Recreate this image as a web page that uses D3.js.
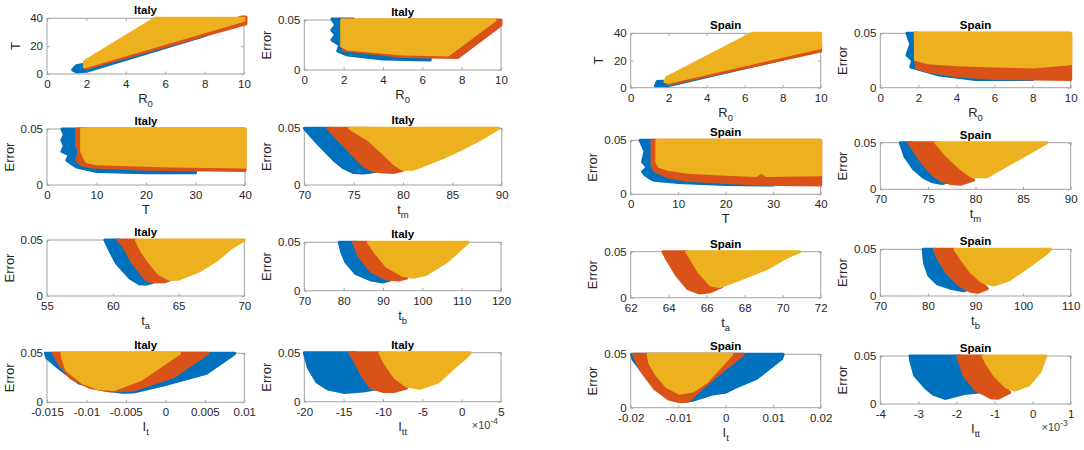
<!DOCTYPE html>
<html>
<head>
<meta charset="utf-8">
<script src="https://cdn.jsdelivr.net/npm/d3@7"></script>
<style>
  html, body { margin: 0; padding: 0; background: #fff; }
  svg { display: block; }
</style>
</head>
<body>
<svg id="chart" width="1084" height="450"></svg>
<script>
const BLUE = "#0072BD", ORANGE = "#D95319", YELLOW = "#EDB120";
const FONT = "'Liberation Sans', Arial, Helvetica, sans-serif";

// ---- tick values ----------------------------------------------------------
const ticksR0 = [0, 2, 4, 6, 8, 10];
const ticksT = [0, 10, 20, 30, 40];
const ticksTy = [0, 20, 40];
const ticksErr = [0, 0.05];
const ticksTm = [70, 75, 80, 85, 90];
const ticksTaIt = [55, 60, 65, 70];
const ticksTaEs = [62, 64, 66, 68, 70, 72];
const ticksTbIt = [70, 80, 90, 100, 110, 120];
const ticksTbEs = [70, 80, 90, 100, 110];
const ticksItIt = [-0.015, -0.01, -0.005, 0, 0.005, 0.01];
const ticksItEs = [-0.02, -0.01, 0, 0.01, 0.02];
const ticksIttIt = [-20, -15, -10, -5, 0, 5];   // x 10^-4
const ticksIttEs = [-4, -3, -2, -1, 0, 1];      // x 10^-3

// ---- cloud outlines, [x, y] ------------------------------------------------
// Italy
const itR0T = {
  blue:   [[1.3,3],[1.5,6],[2.2,8],[8.1,30],[8.1,28],[2,2],[1.5,1.5]],
  orange: [[1.9,5],[9.9,41],[10.1,41],[10.1,36],[2,4]],
  yellow: [[1.9,5],[1.9,9],[3.3,21],[5.5,40],[10,40],[10,38.5],[2,5.5]]
};
const itR0E = {
  blue:   [[1.4,0.051],[2.5,0.051],[2.5,0.03],[6.4,0.012],[6.4,0.010],[4,0.011],[2.2,0.015],[1.7,0.019],[1.8,0.025],[1.4,0.03],[1.6,0.035],[1.4,0.04],[1.6,0.045]],
  orange: [[1.9,0.05],[10,0.05],[10,0.045],[7.8,0.0125],[5,0.0135],[2,0.02]],
  yellow: [[1.9,0.05],[9.7,0.05],[7.3,0.015],[5,0.016],[2.2,0.021],[1.9,0.024]]
};
const itTE = {
  blue:   [[3,0.05],[8,0.05],[8,0.03],[30,0.014],[30,0.011],[20,0.011],[10,0.012],[6,0.016],[5,0.019],[4,0.022],[4.5,0.027],[3,0.03],[3.5,0.035],[3,0.04],[3.5,0.045]],
  orange: [[6,0.05],[40,0.05],[40,0.013],[20,0.014],[9,0.016],[7,0.018],[6,0.022],[6.5,0.03],[6,0.035]],
  yellow: [[7,0.05],[40,0.05],[40,0.016],[25,0.017],[10,0.019],[8,0.021],[7.5,0.025],[7,0.03]]
};
const itTmE = {
  blue:   [[70,0.05],[72.5,0.05],[74,0.035],[75.5,0.022],[77.2,0.012],[76,0.0105],[75,0.011],[74,0.015],[73,0.022],[72,0.031],[71,0.040]],
  orange: [[72.4,0.05],[76.5,0.05],[78,0.03],[80,0.013],[79,0.011],[78,0.0115],[77,0.0125],[76,0.017],[75,0.026],[74,0.035],[73,0.044]],
  yellow: [[74.6,0.05],[89.7,0.05],[88,0.041],[86,0.032],[84,0.024],[82,0.017],[81,0.0138],[80,0.0138],[79.2,0.018],[78,0.028],[76.5,0.04]]
};
const itTaE = {
  blue:   [[59.4,0.05],[60.5,0.05],[61.5,0.03],[63,0.012],[62.5,0.0105],[62,0.011],[61.3,0.016],[60.3,0.029],[59.8,0.04]],
  orange: [[60.4,0.05],[61.8,0.05],[63,0.03],[64.5,0.015],[64,0.0128],[63,0.0125],[62.5,0.015],[61.5,0.03],[60.8,0.045]],
  yellow: [[61.8,0.05],[70,0.05],[69,0.043],[67.9,0.032],[66.5,0.022],[65,0.015],[64.3,0.015],[63.5,0.02],[62.8,0.03],[62.2,0.04]]
};
const itTbE = {
  blue:   [[78.9,0.05],[83,0.05],[86,0.03],[91.8,0.011],[90,0.009],[87,0.011],[83,0.018],[80.5,0.03],[79.5,0.04]],
  orange: [[82.5,0.05],[86.5,0.05],[89,0.03],[96,0.013],[94,0.011],[91,0.012],[87,0.02],[84,0.035]],
  yellow: [[86.3,0.05],[111.7,0.05],[110,0.044],[106.2,0.03],[101,0.017],[97.7,0.0138],[95,0.016],[91,0.025],[88,0.04]]
};
const itItE = {
  blue:   [[-0.0152,0.05],[0.0088,0.05],[0.0085,0.048],[0.0052,0.0296],[0,0.018],[-0.004,0.0105],[-0.0055,0.0102],[-0.008,0.013],[-0.011,0.02],[-0.0135,0.035],[-0.015,0.045]],
  orange: [[-0.0142,0.05],[0.0054,0.05],[0.001,0.026],[-0.004,0.0125],[-0.007,0.0115],[-0.0095,0.015],[-0.012,0.025],[-0.0135,0.04]],
  yellow: [[-0.0131,0.05],[0.0018,0.05],[-0.0032,0.0228],[-0.0065,0.013],[-0.0085,0.014],[-0.0105,0.02],[-0.0125,0.033],[-0.013,0.045]]
};
const itIttE = {
  blue:   [[-20,0.05],[-13.5,0.05],[-12,0.03],[-11,0.013],[-12.5,0.011],[-15,0.0095],[-17,0.013],[-18.4,0.02],[-19.5,0.035]],
  orange: [[-14.2,0.05],[-10.4,0.05],[-8.5,0.03],[-7,0.014],[-8.5,0.0105],[-10,0.0105],[-11.5,0.014],[-12.5,0.025],[-13.5,0.04]],
  yellow: [[-10.4,0.05],[1.1,0.05],[0.5,0.045],[-1.1,0.034],[-3,0.02],[-5.3,0.0136],[-7,0.016],[-8.5,0.025],[-9.8,0.04]]
};
// Spain
const esR0T = {
  blue:   [[1.3,1.5],[1.4,4.5],[2,5],[8,23.5],[8,21],[2,1.5]],
  orange: [[1.9,4],[10,31],[10,27],[2,2.5]],
  yellow: [[1.8,4.5],[1.9,7.5],[6.4,40],[10,40],[10,29.5],[2,4]]
};
const esR0E = {
  blue:   [[1.4,0.05],[2,0.05],[2,0.025],[4,0.012],[8,0.009],[8,0.0075],[5,0.0075],[3,0.012],[2.2,0.016],[1.6,0.019],[1.7,0.025],[1.4,0.03],[1.6,0.04]],
  orange: [[1.8,0.05],[10,0.05],[10,0.0075],[6,0.0085],[4,0.011],[2.5,0.015],[1.9,0.018]],
  yellow: [[1.85,0.05],[10,0.05],[10,0.022],[8,0.019],[6,0.02],[4,0.021],[2.5,0.023],[1.85,0.026]]
};
const esTE = {
  blue:   [[2,0.05],[5,0.05],[5,0.03],[12,0.015],[30,0.011],[30,0.0085],[20,0.009],[10,0.011],[5,0.013],[4,0.015],[3,0.018],[2.5,0.021],[3.5,0.025],[2.5,0.03],[3,0.04]],
  orange: [[4.5,0.05],[40,0.05],[40,0.0085],[30,0.009],[20,0.011],[12,0.013],[8,0.016],[5,0.022],[4.5,0.027]],
  yellow: [[5.5,0.05],[40,0.05],[40,0.018],[28.5,0.0175],[27.5,0.021],[26.5,0.0175],[20,0.0185],[12,0.0205],[8,0.023],[6,0.026],[5.5,0.03]]
};
const esTmE = {
  blue:   [[72.1,0.05],[73.2,0.05],[75,0.028],[77.5,0.009],[76.5,0.0062],[75.5,0.008],[74.5,0.013],[73.5,0.022],[72.6,0.035]],
  orange: [[73,0.05],[76,0.05],[78,0.025],[79.8,0.01],[78.5,0.0055],[77.5,0.006],[76.5,0.009],[75.5,0.016],[74.3,0.03]],
  yellow: [[75.85,0.05],[87.5,0.05],[81.2,0.0136],[79.6,0.0136],[78.5,0.022],[77,0.036]]
};
const esTaE = {
  orange: [[63.7,0.05],[65,0.05],[66,0.028],[66.8,0.012],[66.2,0.0065],[65.6,0.0052],[65,0.01],[64.4,0.025],[63.9,0.042]],
  yellow: [[64.95,0.05],[70.9,0.05],[70.3,0.045],[69.2,0.032],[67.5,0.018],[66.7,0.012],[66.2,0.014],[65.6,0.028]]
};
const esTbE = {
  blue:   [[79,0.05],[81.5,0.05],[84,0.03],[89,0.008],[87.5,0.0055],[85,0.008],[82,0.013],[80.2,0.022],[79.3,0.035]],
  orange: [[81.3,0.05],[85.7,0.05],[88,0.03],[92.5,0.008],[90.5,0.004],[89,0.005],[86.5,0.012],[84,0.025],[82.2,0.04]],
  yellow: [[85.7,0.05],[105.8,0.05],[104.5,0.044],[101.5,0.033],[97,0.017],[93.7,0.0118],[91.5,0.015],[89,0.026],[87,0.04]]
};
const esItE = {
  blue:   [[-0.0198,0.05],[0.0121,0.05],[0.0118,0.046],[0.0065,0.0275],[0.002,0.019],[0,0.0145],[-0.001,0.014],[-0.003,0.0125],[-0.007,0.007],[-0.0085,0.006],[-0.012,0.012],[-0.016,0.025],[-0.0195,0.045]],
  orange: [[-0.0194,0.05],[0.0037,0.05],[-0.0026,0.0275],[-0.0065,0.012],[-0.008,0.006],[-0.0096,0.0055],[-0.012,0.008],[-0.015,0.018],[-0.018,0.036]],
  yellow: [[-0.0163,0.05],[0.0013,0.05],[-0.004,0.0244],[-0.007,0.0155],[-0.0096,0.0134],[-0.0125,0.02],[-0.0145,0.0306],[-0.016,0.042]]
};
const esIttE = {
  blue:   [[-3.22,0.05],[-1.9,0.05],[-1.6,0.03],[-1.3,0.013],[-1.8,0.011],[-2.3,0.0058],[-2.6,0.01],[-2.8,0.0163],[-3.1,0.03],[-3.2,0.045]],
  orange: [[-1.97,0.05],[-1.3,0.05],[-1.0,0.03],[-0.6,0.012],[-0.9,0.006],[-1.1,0.0065],[-1.5,0.015],[-1.8,0.03]],
  yellow: [[-1.3,0.05],[0.35,0.05],[0.3,0.045],[0.195,0.0337],[-0.1,0.02],[-0.46,0.0146],[-0.7,0.018],[-1.0,0.03],[-1.2,0.042]]
};

// ---- layout: box = [left, top, right, bottom] in px ------------------------
const panels = [
  { title: "Italy", box: [47, 18.3, 244, 74],      xd: [0, 10],  xt: ticksR0, yd: [0, 40], yt: ticksTy, xl: ["R", "0"], yl: "T", c: itR0T },
  { title: "Italy", box: [304.3, 20, 501, 70],     xd: [0, 10],  xt: ticksR0, yd: [0, 0.05], yt: ticksErr, xl: ["R", "0"], yl: "Error", c: itR0E },
  { title: "Italy", box: [47, 129, 245, 185],      xd: [0, 40],  xt: ticksT,  yd: [0, 0.05], yt: ticksErr, xl: ["T", ""], yl: "Error", c: itTE },
  { title: "Italy", box: [304.3, 128.3, 501.7, 185], xd: [70, 90], xt: ticksTm, yd: [0, 0.05], yt: ticksErr, xl: ["t", "m"], yl: "Error", c: itTmE },
  { title: "Italy", box: [47, 240, 244.3, 296],    xd: [55, 70], xt: ticksTaIt, yd: [0, 0.05], yt: ticksErr, xl: ["t", "a"], yl: "Error", c: itTaE },
  { title: "Italy", box: [304.3, 242.3, 501, 290.7], xd: [70, 120], xt: ticksTbIt, yd: [0, 0.05], yt: ticksErr, xl: ["t", "b"], yl: "Error", c: itTbE },
  { title: "Italy", box: [47, 353.3, 244.3, 402.3], xd: [-0.015, 0.01], xt: ticksItIt, yd: [0, 0.05], yt: ticksErr, xl: ["I", "t"], yl: "Error", c: itItE },
  { title: "Italy", box: [304.3, 352.7, 501, 401.7], xd: [-20, 5], xt: ticksIttIt, yd: [0, 0.05], yt: ticksErr, xl: ["I", "tt"], yl: "Error", c: itIttE, exp: "-4" },
  { title: "Spain", box: [630.7, 33.3, 820.7, 87.7], xd: [0, 10], xt: ticksR0, yd: [0, 40], yt: ticksTy, xl: ["R", "0"], yl: "T", c: esR0T },
  { title: "Spain", box: [880.3, 33.3, 1070.7, 87.7], xd: [0, 10], xt: ticksR0, yd: [0, 0.05], yt: ticksErr, xl: ["R", "0"], yl: "Error", c: esR0E },
  { title: "Spain", box: [630.7, 140.3, 820.7, 194.3], xd: [0, 40], xt: ticksT, yd: [0, 0.05], yt: ticksErr, xl: ["T", ""], yl: "Error", c: esTE },
  { title: "Spain", box: [880.3, 142.7, 1070.7, 189.3], xd: [70, 90], xt: ticksTm, yd: [0, 0.05], yt: ticksErr, xl: ["t", "m"], yl: "Error", c: esTmE },
  { title: "Spain", box: [630.7, 251.7, 820.7, 297.7], xd: [62, 72], xt: ticksTaEs, yd: [0, 0.05], yt: ticksErr, xl: ["t", "a"], yl: "Error", c: esTaE },
  { title: "Spain", box: [880.3, 249.3, 1070.7, 296], xd: [70, 110], xt: ticksTbEs, yd: [0, 0.05], yt: ticksErr, xl: ["t", "b"], yl: "Error", c: esTbE },
  { title: "Spain", box: [630.7, 354.3, 820.7, 407.7], xd: [-0.02, 0.02], xt: ticksItEs, yd: [0, 0.05], yt: ticksErr, xl: ["I", "t"], yl: "Error", c: esItE },
  { title: "Spain", box: [880.3, 356, 1070.7, 404], xd: [-4, 1], xt: ticksIttEs, yd: [0, 0.05], yt: ticksErr, xl: ["I", "tt"], yl: "Error", c: esIttE, exp: "-3" }
];

const svg = d3.select("#chart");
svg.append("rect").attr("width", 1084).attr("height", 450).attr("fill", "#fff");

const cloudColors = [["blue", BLUE], ["orange", ORANGE], ["yellow", YELLOW]];

panels.forEach(p => {
  const [l, t, r, b] = p.box;
  const x = d3.scaleLinear().domain(p.xd).range([l, r]);
  const y = d3.scaleLinear().domain(p.yd).range([b, t]);
  const g = svg.append("g");

  // box (drawn under the data, like MATLAB's default layer)
  g.append("rect")
    .attr("x", l).attr("y", t).attr("width", r - l).attr("height", b - t)
    .attr("fill", "#fff").attr("stroke", "#a3a3a3").attr("stroke-width", 1);

  const fmt = v => String(v);
  const styleAxis = sel => {
    sel.select(".domain").remove();
    sel.selectAll(".tick line").attr("stroke", "#a3a3a3");
    sel.selectAll("text").attr("fill", "#262626")
      .attr("font-family", FONT).attr("font-size", 11.5);
  };

  g.append("g").attr("transform", `translate(0,${b})`)
    .call(d3.axisBottom(x).tickValues(p.xt).tickFormat(fmt).tickSize(-2.5).tickPadding(6))
    .call(styleAxis);
  g.append("g").attr("transform", `translate(${l},0)`)
    .call(d3.axisLeft(y).tickValues(p.yt).tickFormat(fmt).tickSize(-2.5).tickPadding(4))
    .call(styleAxis);
  g.append("g").attr("transform", `translate(0,${t})`)
    .call(d3.axisTop(x).tickValues(p.xt).tickFormat("").tickSize(-2.5))
    .call(styleAxis);
  g.append("g").attr("transform", `translate(${r},0)`)
    .call(d3.axisRight(y).tickValues(p.yt).tickFormat("").tickSize(-2.5))
    .call(styleAxis);

  // point clouds (outlines of the dense '*' markers)
  const line = d3.line().x(d => x(d[0])).y(d => y(d[1])).curve(d3.curveLinearClosed);
  cloudColors.forEach(([k, col]) => {
    if (!p.c[k]) return;
    g.append("path")
      .attr("d", line(p.c[k]))
      .attr("fill", col)
      .attr("stroke", col)
      .attr("stroke-width", 3)
      .attr("stroke-linejoin", "round");
  });

  // x label with subscript
  const xl = g.append("text")
    .attr("x", (l + r) / 2).attr("y", b + 29)
    .attr("text-anchor", "middle")
    .attr("font-family", FONT).attr("font-size", 13).attr("fill", "#262626");
  xl.append("tspan").text(p.xl[0]);
  if (p.xl[1]) xl.append("tspan").attr("dy", 4).attr("font-size", 9.5).text(p.xl[1]);

  // y label
  const yOff = p.yl === "T" ? 32 : 38;
  g.append("text")
    .attr("transform", `translate(${l - yOff},${(t + b) / 2}) rotate(-90)`)
    .attr("text-anchor", "middle").attr("dy", "0.35em")
    .attr("font-family", FONT).attr("font-size", 13).attr("fill", "#262626")
    .text(p.yl);

  // exponent note
  if (p.exp) {
    const ex = g.append("text")
      .attr("x", r - 3).attr("y", b + 27)
      .attr("text-anchor", "end")
      .attr("font-family", FONT).attr("font-size", 11).attr("fill", "#404040");
    ex.append("tspan").text("\u00d710");
    ex.append("tspan").attr("dy", -5).attr("font-size", 8.5).text(p.exp);
  }

  // title
  g.append("text")
    .attr("x", (l + r) / 2).attr("y", t - 4)
    .attr("text-anchor", "middle")
    .attr("font-family", FONT).attr("font-size", 11.5).attr("font-weight", "bold")
    .attr("fill", "#000")
    .text(p.title);
});
</script>
</body>
</html>
